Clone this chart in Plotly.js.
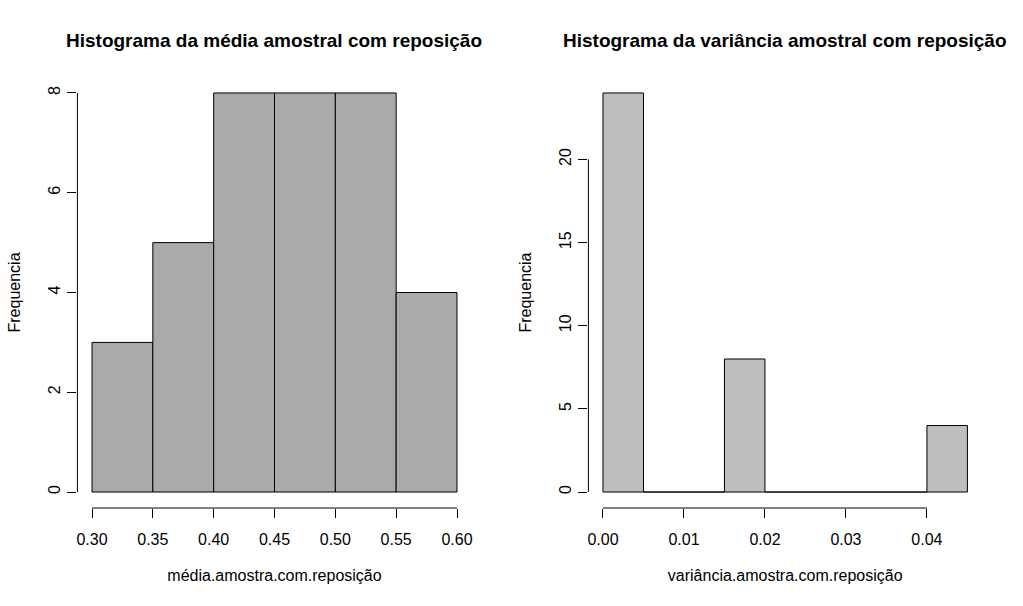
<!DOCTYPE html>
<html>
<head>
<meta charset="utf-8">
<script src="https://cdn.plot.ly/plotly-3.0.1.min.js"></script>
<style>
  html, body { margin: 0; padding: 0; background: #fff; }
  #chart { width: 1023px; height: 606px; }
</style>
</head>
<body>
<div id="chart"></div>
<script>
// Left histogram: sample mean (bins of 0.05)
const mediaBreaks = [0.30, 0.35, 0.40, 0.45, 0.50, 0.55, 0.60];
const mediaCounts = [3, 5, 8, 8, 8, 4];
const mediaXTicks = [0.30, 0.35, 0.40, 0.45, 0.50, 0.55, 0.60];
const mediaYTicks = [0, 2, 4, 6, 8];

// Right histogram: sample variance (bins of 0.005)
const varBreaks = [0.000, 0.005, 0.010, 0.015, 0.020, 0.025, 0.030, 0.035, 0.040, 0.045];
const varCounts = [24, 0, 0, 8, 0, 0, 0, 0, 4];
const varXTicks = [0.00, 0.01, 0.02, 0.03, 0.04];
const varYTicks = [0, 5, 10, 15, 20];

const W = 1023, H = 606;
const FONT = 'Liberation Sans, Arial, sans-serif';

// R-style extended range (4% each side)
function rRange(lo, hi) {
    const d = (hi - lo) * 0.04;
    return [lo - d, hi + d];
}

function histTrace(breaks, counts, color, xa, ya) {
    const mids = counts.map((_, i) => (breaks[i] + breaks[i + 1]) / 2);
    const widths = counts.map((_, i) => breaks[i + 1] - breaks[i]);
    return {
        type: 'bar',
        x: mids,
        y: counts,
        width: widths,
        xaxis: xa,
        yaxis: ya,
        marker: { color: color, line: { color: '#000', width: 1 } },
        hoverinfo: 'x+y',
        showlegend: false
    };
}

function tickText(vals, digits) {
    return vals.map(v => v.toFixed(digits));
}

const data = [
    histTrace(mediaBreaks, mediaCounts, '#aaaaaa', 'x', 'y'),
    histTrace(varBreaks, varCounts, '#bebebe', 'x2', 'y2')
];

// plot regions in pixels
const plotTop = 77, plotBottom = 508;
const left1 = 77.4, right1 = 471.6;
const left2 = 588.4, right2 = 982;

function axisCommon() {
    return {
        showgrid: false,
        zeroline: false,
        showline: false,
        ticks: 'outside',
        ticklen: 9,
        tickwidth: 1,
        tickcolor: '#000',
        tickfont: { family: FONT, size: 16, color: '#000' },
        fixedrange: true
    };
}

function xAxis(domain, breaks, ticks, anchor, label) {
    return Object.assign(axisCommon(), {
        domain: domain,
        range: rRange(breaks[0], breaks[breaks.length - 1]),
        tickvals: ticks,
        ticktext: tickText(ticks, 2),
        ticklabelstandoff: 8,
        anchor: anchor,
        title: { text: label, font: { family: FONT, size: 16 }, standoff: 22 }
    });
}

function yAxis(ticks, maxCount, anchor) {
    return Object.assign(axisCommon(), {
        domain: [1 - plotBottom / H, 1 - plotTop / H],
        range: rRange(0, maxCount),
        tickvals: ticks,
        ticktext: ticks.map(String),
        tickangle: -90,
        ticklabelstandoff: 1,
        anchor: anchor,
        title: { text: 'Frequencia', font: { family: FONT, size: 16 }, standoff: 21 }
    });
}

const layout = {
    width: W,
    height: H,
    margin: { l: 0, r: 0, t: 0, b: 0 },
    paper_bgcolor: '#fff',
    plot_bgcolor: '#fff',
    bargap: 0,
    font: { family: FONT, color: '#000' },
    xaxis: xAxis([left1 / W, right1 / W], mediaBreaks, mediaXTicks, 'y', 'média.amostra.com.reposição'),
    yaxis: yAxis(mediaYTicks, Math.max(...mediaCounts), 'x'),
    xaxis2: xAxis([left2 / W, right2 / W], varBreaks, varXTicks, 'y2', 'variância.amostra.com.reposição'),
    yaxis2: yAxis(varYTicks, Math.max(...varCounts), 'x2'),
    shapes: [
        // R-style axis lines spanning first to last tick
        { type: 'line', xref: 'x', yref: 'paper', x0: mediaXTicks[0], x1: mediaXTicks[mediaXTicks.length - 1],
          y0: 1 - plotBottom / H, y1: 1 - plotBottom / H, line: { color: '#000', width: 1 } },
        { type: 'line', xref: 'paper', yref: 'y', x0: left1 / W, x1: left1 / W,
          y0: mediaYTicks[0], y1: mediaYTicks[mediaYTicks.length - 1], line: { color: '#000', width: 1 } },
        { type: 'line', xref: 'x2', yref: 'paper', x0: varXTicks[0], x1: varXTicks[varXTicks.length - 1],
          y0: 1 - plotBottom / H, y1: 1 - plotBottom / H, line: { color: '#000', width: 1 } },
        { type: 'line', xref: 'paper', yref: 'y2', x0: left2 / W, x1: left2 / W,
          y0: varYTicks[0], y1: varYTicks[varYTicks.length - 1], line: { color: '#000', width: 1 } }
    ],
    annotations: [
        { text: '<b>Histograma da média amostral com reposição</b>', xref: 'paper', yref: 'paper',
          x: 273.5 / W, y: 1 - 40 / H, showarrow: false, xanchor: 'center', yanchor: 'middle',
          font: { family: FONT, size: 19, color: '#000' } },
        { text: '<b>Histograma da variância amostral com reposição</b>', xref: 'paper', yref: 'paper',
          x: 785 / W, y: 1 - 40 / H, showarrow: false, xanchor: 'center', yanchor: 'middle',
          font: { family: FONT, size: 19, color: '#000' } }
    ]
};

Plotly.newPlot('chart', data, layout, { displayModeBar: false, staticPlot: true });
</script>
</body>
</html>
